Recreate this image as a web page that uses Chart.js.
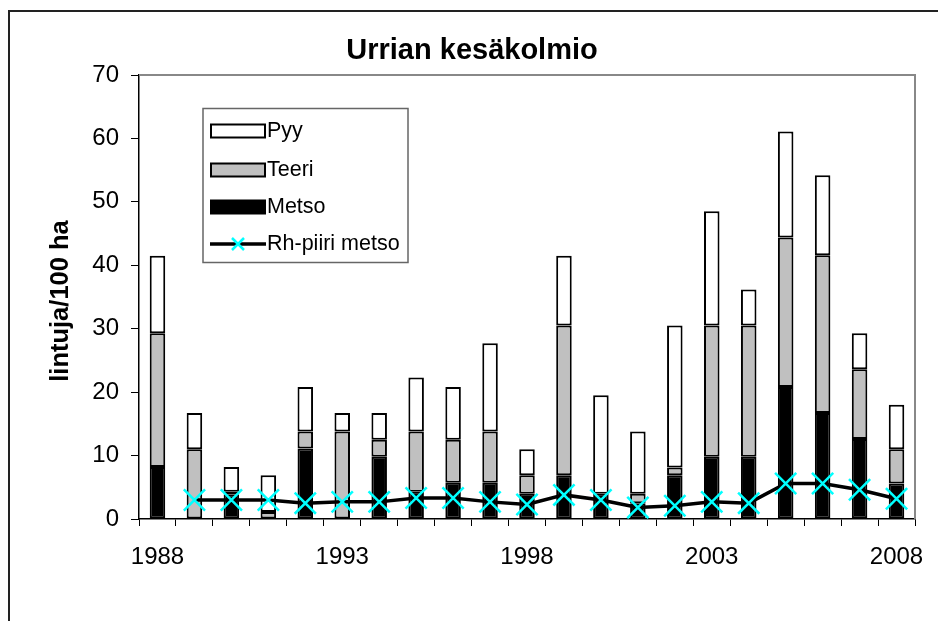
<!DOCTYPE html>
<html>
<head>
<meta charset="utf-8">
<script src="https://cdn.jsdelivr.net/npm/chart.js@4.4.1/dist/chart.umd.min.js"></script>
<style>
  html, body { margin: 0; padding: 0; background: #fff; }
</style>
</head>
<body>
<canvas id="chart" width="938" height="621"></canvas>
<script>
// Data
var years = ['1988', '1989', '1990', '1991', '1992', '1993', '1994', '1995', '1996', '1997', '1998',
             '1999', '2000', '2001', '2002', '2003', '2004', '2005', '2006', '2007', '2008'];
var metso = [8.2, 0, 3.9, 0, 11.1, 0, 9.8, 4.3, 5.7, 5.7, 4.0, 6.9, 4.0, 2.5, 6.9, 9.8, 9.8, 20.8, 16.7, 12.6, 5.6];
var teeri = [21.1, 11.0, 0.4, 1.1, 2.7, 13.8, 2.7, 9.5, 6.8, 8.1, 2.9, 23.6, 0, 1.5, 1.2, 20.7, 20.7, 23.6, 24.9, 11.0, 5.4];
var pyy = [12.2, 5.7, 3.9, 5.8, 7.0, 2.9, 4.2, 8.5, 8.3, 13.9, 4.1, 11.0, 15.5, 9.8, 22.4, 18.0, 5.7, 16.7, 12.6, 5.7, 7.0];
var rhMetso = [null, 3.0, 3.0, 3.0, 2.5, 2.7, 2.7, 3.3, 3.3, 2.7, 2.3, 3.8, 3.0, 1.8, 2.1, 2.7, 2.5, 5.6, 5.6, 4.6, 3.2];
var yTicks = [0, 10, 20, 30, 40, 50, 60, 70];

var FONT = 'Arial, "Liberation Sans", sans-serif';

// frame, titles and legend drawn on top of the chart
var decor = {
  id: 'decor',
  beforeDraw: function (chart) {
    var ctx = chart.ctx;
    ctx.save();
    ctx.fillStyle = '#fff';
    ctx.fillRect(0, 0, chart.width, chart.height);
    ctx.restore();
  },
  afterDraw: function (chart) {
    var ctx = chart.ctx;
    var a = chart.chartArea;
    ctx.save();

    // outer border
    ctx.strokeStyle = '#222';
    ctx.lineWidth = 2;
    ctx.beginPath();
    ctx.moveTo(9, 640);
    ctx.lineTo(9, 11);
    ctx.lineTo(940, 11);
    ctx.stroke();

    // plot frame top / right
    ctx.strokeStyle = '#888';
    ctx.lineWidth = 2;
    ctx.beginPath();
    ctx.moveTo(a.left, a.top);
    ctx.lineTo(a.right, a.top);
    ctx.lineTo(a.right, a.bottom);
    ctx.stroke();

    // title
    ctx.fillStyle = '#000';
    ctx.font = 'bold 29px ' + FONT;
    ctx.textAlign = 'center';
    ctx.textBaseline = 'middle';
    ctx.fillText('Urrian kesäkolmio', 472, 51);

    // y axis title
    ctx.save();
    ctx.translate(61, 301);
    ctx.rotate(-Math.PI / 2);
    ctx.font = 'bold 25.5px ' + FONT;
    ctx.fillText('lintuja/100 ha', 0, 0);
    ctx.restore();

    // legend
    ctx.strokeStyle = '#666';
    ctx.lineWidth = 1.5;
    ctx.strokeRect(203, 108.5, 205, 154);
    var order = [2, 1, 0, 3];
    var rowY = [131, 170, 207, 244];
    ctx.font = '21.5px ' + FONT;
    ctx.textAlign = 'left';
    order.forEach(function (di, i) {
      var ds = chart.data.datasets[di];
      var y = rowY[i];
      if (ds.type === 'line') {
        ctx.strokeStyle = '#000';
        ctx.lineWidth = 3.5;
        ctx.beginPath();
        ctx.moveTo(210, y);
        ctx.lineTo(266, y);
        ctx.stroke();
        ctx.strokeStyle = ds.pointBorderColor;
        ctx.lineWidth = 2.5;
        ctx.beginPath();
        ctx.moveTo(232, y - 6); ctx.lineTo(244, y + 6);
        ctx.moveTo(244, y - 6); ctx.lineTo(232, y + 6);
        ctx.stroke();
      } else {
        ctx.fillStyle = ds.backgroundColor;
        ctx.fillRect(211, y - 6.5, 54, 13);
        ctx.strokeStyle = '#000';
        ctx.lineWidth = 2;
        ctx.strokeRect(211, y - 6.5, 54, 13);
      }
      ctx.fillStyle = '#000';
      ctx.fillText(ds.label, 267, y);
    });

    ctx.restore();
  }
};

var barStyle = {
  borderColor: '#000',
  borderWidth: 2,
  borderSkipped: false,
  barPercentage: 0.42,
  categoryPercentage: 1.0,
  stack: 'birds',
  order: 2
};

var chart = new Chart(document.getElementById('chart'), {
  type: 'bar',
  data: {
    labels: years,
    datasets: [
      Object.assign({ label: 'Metso', data: metso, backgroundColor: '#000000' }, barStyle),
      Object.assign({ label: 'Teeri', data: teeri, backgroundColor: '#c0c0c0' }, barStyle),
      Object.assign({ label: 'Pyy', data: pyy, backgroundColor: '#ffffff' }, barStyle),
      {
        type: 'line',
        label: 'Rh-piiri metso',
        data: rhMetso,
        stack: 'line',
        order: 0,
        borderColor: '#000',
        borderWidth: 3.5,
        tension: 0,
        pointStyle: 'crossRot',
        pointRadius: 15,
        pointBorderWidth: 2.5,
        pointBorderColor: '#00ffff',
        pointBackgroundColor: '#00ffff'
      }
    ]
  },
  options: {
    responsive: false,
    animation: false,
    layout: { padding: { left: 0, top: 75, right: 23, bottom: 42 } },
    plugins: {
      legend: { display: false },
      title: { display: false },
      tooltip: { enabled: false }
    },
    scales: {
      x: {
        stacked: true,
        afterFit: function (s) { s.height = 60; s.paddingLeft = 0; s.paddingRight = 0; },
        border: { color: '#000', width: 1.5 },
        grid: { offset: true, drawOnChartArea: false, tickLength: 7, color: '#000', lineWidth: 1 },
        ticks: {
          autoSkip: false,
          maxRotation: 0,
          padding: 17,
          color: '#000',
          font: { family: FONT, size: 24 },
          callback: function (v, i) { return i % 5 === 0 ? years[i] : ''; }
        }
      },
      y: {
        stacked: true,
        min: 0,
        max: 70,
        afterFit: function (s) { s.width = 139; s.paddingTop = 0; s.paddingBottom = 0; },
        afterBuildTicks: function (s) { s.ticks = yTicks.map(function (v) { return { value: v }; }); },
        border: { color: '#000', width: 1.5 },
        grid: { drawOnChartArea: false, tickLength: 8, color: '#000', lineWidth: 1 },
        ticks: {
          padding: 12,
          color: '#000',
          font: { family: FONT, size: 24 }
        }
      }
    }
  },
  plugins: [decor]
});
</script>
</body>
</html>
